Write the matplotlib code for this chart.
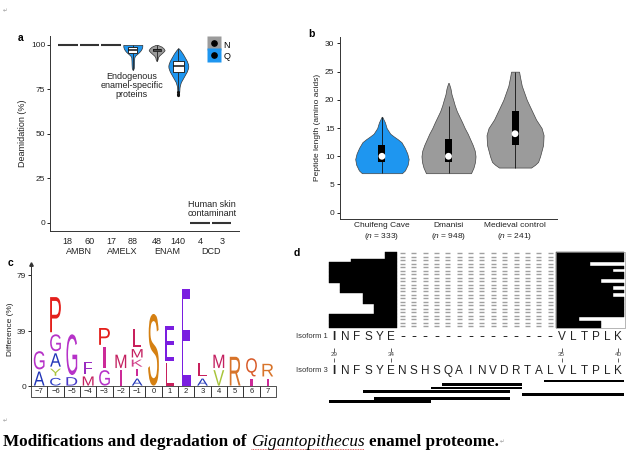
import numpy as np
import matplotlib
matplotlib.use('Agg')
import matplotlib.pyplot as plt
import matplotlib.transforms as mtransforms
from matplotlib.lines import Line2D
from matplotlib.patches import PathPatch, Rectangle
from matplotlib.textpath import TextPath
from matplotlib.font_manager import FontProperties

plt.rcParams['font.family'] = ['Liberation Sans', 'DejaVu Sans']
plt.rcParams['font.size'] = 6
plt.rcParams['mathtext.fontset'] = 'custom'
plt.rcParams['mathtext.rm'] = 'Liberation Sans'
plt.rcParams['mathtext.it'] = 'Liberation Sans:italic'
plt.rcParams['axes.linewidth'] = 0.7
plt.rcParams['axes.edgecolor'] = '#333333'

W, H = 639, 455
BLUE = '#1e96f0'
GREY = '#9b9b9b'
INK = '#222222'

# ---------------- a: deamidation per protein
a_groups = ['AMBN', 'AMELX', 'ENAM', 'DCD']
a_counts = ['18', '60', '17', '88', '48', '140', '4', '3']
a_kind = ['N', 'Q', 'N', 'Q', 'N', 'Q', 'N', 'Q']
a_flat = [100, 100, 100, None, None, None, 0, 0]
# violin outlines: value (%) and half width (px)
amelx_q_y = [86, 87, 89, 91, 93, 94, 95, 96, 97, 98, 99, 100]
amelx_q_w = [0.3, 1.0, 1.2, 1.3, 1.5, 2.5, 4.5, 6.5, 8, 9, 9.5, 9.5]
enam_n_y = [91, 92, 93, 94, 95, 96, 97, 98, 99, 99.5, 100]
enam_n_w = [0.3, 1, 1.3, 2.5, 4.5, 6.5, 8, 7, 5, 3, 1]
enam_q_y = [71, 72, 74, 76, 77, 79, 81, 83, 85, 87, 88, 89, 91, 93, 95, 97, 98]
enam_q_w = [0, 0.5, 1, 1.2, 1.5, 2.5, 4.5, 6.5, 8.5, 9.8, 10, 9.8, 8.5, 6.5, 4.5, 2, 0.5]
a_box = {3: (95.6, 97.0, 98.6), 4: (96.3, 97.0, 97.7), 5: (85.0, 88.0, 91.0)}
a_whisk = {3: (86, 100), 4: (91, 100), 5: (74, 98)}
enam_q_out = [73.5, 72.6, 71.6]

# ---------------- b: peptide length
b_sites = ['Chuifeng Cave', 'Dmanisi', 'Medieval control']
b_n = [333, 948, 241]
chui_y = [7, 7.5, 8.5, 9.5, 10.5, 11.5, 12.5, 13, 13.5, 14, 15, 16, 17]
chui_w = [20, 23, 25.7, 26.7, 25.3, 22.8, 19.5, 16, 12, 8.3, 4.7, 3, 0.3]
dman_y = [7, 8, 9, 10, 11, 12, 13, 14, 15, 16, 17, 18, 19, 20, 21, 22, 23]
dman_w = [22.5, 25, 26.5, 27, 26.2, 24.2, 21.7, 19.2, 16.2, 13.7, 11, 8.3, 6.3, 4.7, 3, 2, 0.3]
medi_y = [8, 8.5, 9, 10, 12, 13.75, 15, 16.5, 18, 20, 22.5, 24, 25]
medi_w = [16, 20, 23, 25, 28, 28.5, 26.5, 21, 17, 11.7, 6.7, 5, 4]
b_q1 = [9, 9, 12]
b_med = [10, 10, 14]
b_q3 = [12, 13, 18]
b_min = [7, 7, 8]
b_max = [17, 19, 25]

# ---------------- c: sequence logo around phosphorylated S
c_pos = ['\u22127', '\u22126', '\u22125', '\u22124', '\u22123', '\u22122', '\u22121',
         '0', '1', '2', '3', '4', '5', '6', '7']
c_letters = ['AG', 'CYAGP', 'DG', 'MF', 'GIP', 'IM', 'AIKML', 'S', 'LE', 'E',
             'AL', 'VM', 'R', 'IQ', 'IR']
c_heights = [[10, 13], [5.5, 5, 9.5, 12, 25], [6, 29], [6.5, 9], [11, 15, 12],
             [11, 9.5], [5, 5.5, 5, 6, 13], [51], [16, 25], [69], [5, 9.5],
             [11, 9.5], [20.5], [5, 13], [5, 9]]
AA_COL = {'A': '#2236b8', 'C': '#3040c8', 'D': '#4638c8', 'E': '#7a1ee0',
          'F': '#9a2cc0', 'G': '#b632c8', 'I': '#cc2a98', 'K': '#d0408a',
          'L': '#c8205c', 'M': '#c42060', 'P': '#e4201c', 'Q': '#d85a28',
          'R': '#d8742a', 'S': '#d58012', 'V': '#a8c43a', 'Y': '#a8c43a'}

# ---------------- d: AMELX isoform coverage
iso1 = 'INFSYE' + '-' * 14 + 'VLTPLK'
iso3 = 'INFSYENSHSQAINVDRTALVLTPLK'
d_marks = [0, 5, 20, 25]
d_mark_labels = ['29', '34', '35', '40']
left_start = [5, 5, 2, 0, 0, 0, 0, 0, 0, 1, 1, 1, 3, 3, 3, 4, 4, 4, 0, 0, 0, 0]
right_end = [25, 25, 25, 22, 25, 24, 25, 25, 23, 25, 24, 25, 24, 25, 25, 25, 25, 25, 25, 21, 23, 23]
iso3_start = [19, 10, 9, 3, 17, 4, 0]
iso3_end = [25, 16, 16, 15, 25, 15, 8]


def px_axes(fig, x0, y0, x1, y1):
    return fig.add_axes([x0 / W, 1 - y1 / H, (x1 - x0) / W, (y1 - y0) / H])


def ftext(fig, x, y, s, **kw):
    return fig.text(x / W, 1 - y / H, s, **kw)


fig = plt.figure(figsize=(W / 100, H / 100), dpi=100)

# ================= panel a
A_PX = 21.7
a_pos = [0, 1, 2, 3, 4.1, 5.1, 6.1, 7.1]
ax = px_axes(fig, 50, 36, 239, 231)
ax.set_xlim(-0.82, 7.9)
ax.set_ylim(-4.7, 105)
for s in ['top', 'right']:
    ax.spines[s].set_visible(False)
ax.set_yticks([0, 25, 50, 75, 100])
ax.tick_params(axis='y', length=2, width=0.6, pad=1.5, labelcolor=INK)
ax.set_xticks(a_pos, a_counts)
ax.tick_params(axis='x', length=0, pad=4, labelcolor=INK, labelsize=6.5)
ax.set_ylabel('Deamidation (%)', labelpad=3, color=INK, fontsize=6.5)

for i, v in enumerate(a_flat):
    if v is not None:
        ax.hlines(v, a_pos[i] - 0.45, a_pos[i] + 0.45, color='#333333', lw=1.5)

profiles = [(3, amelx_q_y, amelx_q_w), (4, enam_n_y, enam_n_w), (5, enam_q_y, enam_q_w)]
stats = []
for i, ys, ws in profiles:
    stats.append(dict(coords=np.array(ys, float), vals=np.array(ws, float),
                      mean=a_box[i][1], median=a_box[i][1], min=min(ys), max=max(ys)))
vp = ax.violin(stats, positions=[a_pos[i] for i, _, _ in profiles],
               widths=[2 * max(ws) / A_PX for _, _, ws in profiles], showextrema=False)
for body, (i, _, _) in zip(vp['bodies'], profiles):
    body.set_facecolor(BLUE if a_kind[i] == 'Q' else GREY)
    body.set_edgecolor('#333333')
    body.set_linewidth(0.5)
    body.set_alpha(1)
a_bw = {3: 9.4, 4: 8, 5: 11}
for i in a_box:
    q1, med, q3 = a_box[i]
    ax.vlines(a_pos[i], a_whisk[i][0], a_whisk[i][1], color='#222222', lw=0.6, zorder=2.5)
    ax.bar(a_pos[i], q3 - q1, bottom=q1, width=a_bw[i] / A_PX, color='white',
           edgecolor='#111111', lw=0.6, zorder=3)
    ax.hlines(med, a_pos[i] - a_bw[i] / A_PX / 2, a_pos[i] + a_bw[i] / A_PX / 2,
              color='#111111', lw=1.1, zorder=4)
ax.scatter([a_pos[5]] * len(enam_q_out), enam_q_out, s=1.5, color='#111111', zorder=3)

for g, name in enumerate(a_groups):
    xc = (a_pos[2 * g] + a_pos[2 * g + 1]) / 2
    ax.text(xc, -0.103, name, transform=ax.get_xaxis_transform(), ha='center',
            va='center', fontsize=6.5, color=INK)

h_n = (Line2D([], [], ls='', marker='s', ms=10, mfc=GREY, mec='none'),
       Line2D([], [], ls='', marker='o', ms=3.8, mfc='k', mec='k'))
h_q = (Line2D([], [], ls='', marker='s', ms=10, mfc=BLUE, mec='none'),
       Line2D([], [], ls='', marker='o', ms=3.8, mfc='k', mec='k'))
ax.legend([h_n, h_q], ['N', 'Q'], loc='upper left', bbox_to_anchor=(0.845, 0.985),
          frameon=False, fontsize=6.5, handlelength=1.0, handleheight=1.55,
          labelspacing=0.0, handletextpad=0.5, borderpad=0, borderaxespad=0)

ftext(fig, 131.7, 85.7, 'Endogenous\nenamel-specific\nproteins', ha='center', va='center',
      fontsize=6.5, linespacing=1.0, color=INK)
ftext(fig, 212, 209.5, 'Human skin\ncontaminant', ha='center', va='center',
      fontsize=6.5, linespacing=1.0, color=INK)

# ================= panel b
B_PX = 66.5
b_pos = [0, 1, 2]
bx = px_axes(fig, 340, 36.7, 557, 219)
bx.set_xlim(-0.63, 2.63)
bx.set_ylim(-1.12, 31.2)
for s in ['top', 'right']:
    bx.spines[s].set_visible(False)
bx.set_yticks(range(0, 31, 5))
bx.tick_params(axis='y', length=2, width=0.6, pad=2, labelcolor=INK, labelsize=6)
bx.set_xticks(b_pos, [f'{s}\n($\\it{{n}}$ = {n})' for s, n in zip(b_sites, b_n)])
bx.tick_params(axis='x', length=0, pad=2.5, labelcolor=INK, labelsize=6)
bx.set_ylabel('Peptide length (amino acids)', labelpad=3, color=INK, fontsize=6)

b_prof = [(chui_y, chui_w), (dman_y, dman_w), (medi_y, medi_w)]
bstats = [dict(coords=np.array(ys, float), vals=np.array(ws, float), mean=m, median=m,
               min=min(ys), max=max(ys)) for (ys, ws), m in zip(b_prof, b_med)]
vb = bx.violin(bstats, positions=b_pos, widths=[2 * max(ws) / B_PX for _, ws in b_prof],
               showextrema=False)
for body, col in zip(vb['bodies'], [BLUE, GREY, GREY]):
    body.set_facecolor(col)
    body.set_edgecolor('#444444')
    body.set_linewidth(0.5)
    body.set_alpha(1)
bx.vlines(b_pos, b_min, b_max, color='#111111', lw=0.6, zorder=2.5)
bx.bar(b_pos, np.subtract(b_q3, b_q1), bottom=b_q1, width=7 / B_PX, color='black', zorder=3)
bx.scatter(b_pos, b_med, s=24, color='white', edgecolors='none', zorder=4)

# ================= panel c
cx = px_axes(fig, 31, 262, 276, 397)
cx.set_xlim(-0.5, 14.5)
cx.set_ylim(-7.83, 88.3)
for s in ['top', 'right', 'bottom']:
    cx.spines[s].set_visible(False)
cx.spines['left'].set_bounds(0, 87)
cx.plot([-0.5], [87], marker='^', ms=2.5, color='#333333', clip_on=False)
cx.set_yticks([0, 39, 79])
cx.set_xticks([])
cx.tick_params(axis='y', length=2, width=0.6, pad=1.5, labelcolor=INK, labelsize=6)
cx.set_ylabel('Difference (%)', labelpad=2, color=INK, fontsize=6)

fp = FontProperties(family='Liberation Sans')
LETTER_W = {'I': 0.16, 'L': 0.5, 'F': 0.5, 'E': 0.56}


def logo_letter(axis, ch, xc, y0, h, color):
    w = LETTER_W.get(ch, 0.66)
    tp = TextPath((0, 0), ch, size=1, prop=fp)
    ext = tp.get_extents()
    tr = (mtransforms.Affine2D().translate(-ext.x0, -ext.y0)
          .scale(w / ext.width, h / ext.height).translate(xc - w / 2, y0))
    axis.add_patch(PathPatch(tr.transform_path(tp), facecolor=color, edgecolor='none'))


for i, (letters, heights) in enumerate(zip(c_letters, c_heights)):
    y = 0.3
    for ch, h in zip(letters, heights):
        logo_letter(cx, ch, i, y, h, AA_COL[ch])
        y += h + 1.5
cx.bar(range(len(c_pos)), -7.5, bottom=0, width=1, fill=False, edgecolor='#333333',
       lw=0.6, clip_on=False)
for i, lab in enumerate(c_pos):
    cx.text(i, -3.8, lab, ha='center', va='center', fontsize=5.5, color=INK)

# ================= panel d
TOP0, ISO1_BASE, ISO1_MID, NUM_Y, ISO3_BASE, ISO3_MID, BOT0 = 1.94, 27.64, 26.54, 31.84, 37.48, 36.4, 38.87
dx = px_axes(fig, 300, 245, 639, 410)
dx.set_xlim(-3.02, 26.82)
dx.set_ylim(47.76, 0)
dx.axis('off')
rows = np.arange(len(left_start))
dx.barh(TOP0 + rows + 0.5, [5.5 - (s - 0.5) for s in left_start],
        left=[s - 0.5 for s in left_start], height=1.0, color='black', ec='black', lw=0.3)
dx.barh(TOP0 + rows + 0.5, [e + 0.5 - 19.5 for e in right_end], left=19.5, height=1.0,
        color='black', ec='black', lw=0.3)
dx.add_patch(Rectangle((19.5, TOP0), 6.05, len(rows), fill=False, ec='#999999', lw=0.5))
for r in range(6, 20):
    dx.hlines(TOP0 + rows + 0.5, r - 0.22, r + 0.22, color='#a0a0a0', lw=1.0)

for seq, base, mid, lab in [(iso1, ISO1_BASE, ISO1_MID, 'Isoform 1'),
                            (iso3, ISO3_BASE, ISO3_MID, 'Isoform 3')]:
    dx.text(-0.6, mid, lab, ha='right', va='center', fontsize=5.5, color='#333333')
    for i, ch in enumerate(seq):
        dx.text(i, base, ch, ha='center', va='baseline', color=INK,
                fontsize=11 if ch == '-' else 8.5,
                fontweight='bold' if i == 0 else 'normal')
for r, lab in zip(d_marks, d_mark_labels):
    dx.text(r, NUM_Y, lab, ha='center', va='center', fontsize=4.5, color='#444444')
    dx.vlines([r, r], [29.8, 32.7], [30.9, 33.8], color='#444444', lw=0.6)

dx.barh([BOT0 + k + 0.5 for k in range(len(iso3_start))],
        [e - s + 1 for s, e in zip(iso3_start, iso3_end)],
        left=[s - 0.5 for s in iso3_start], height=0.82, color='black')

# ================= labels and caption
for lab, x, y in [('a', 20.7, 38), ('b', 311.7, 34), ('c', 10, 262.7), ('d', 296.7, 253)]:
    ftext(fig, x, y, lab, fontsize=7.5, fontweight='bold', ha='center', va='center')

for x, y in [(3, 11), (3, 421)]:
    ftext(fig, x, y, '\u21b5', fontsize=4, color='#999999', ha='left', va='center',
          family=['DejaVu Sans'])

cap_y = 441.7
CAP_FS = 12.3
serif = ['Liberation Serif', 'DejaVu Serif']
t1 = ftext(fig, 3, cap_y, 'Modifications and degradation of', family=serif,
           fontweight='bold', fontsize=CAP_FS, va='center')
fig.canvas.draw()
rend = fig.canvas.get_renderer()
gap = 4.2
bb1 = t1.get_window_extent(rend)
t2 = fig.text((bb1.x1 + gap) / W, 1 - cap_y / H, 'Gigantopithecus', family=serif,
              style='italic', fontsize=CAP_FS, va='center')
bb2 = t2.get_window_extent(rend)
t3 = fig.text((bb2.x1 + gap) / W, 1 - cap_y / H, 'enamel proteome.', family=serif,
              fontweight='bold', fontsize=CAP_FS, va='center')
bb3 = t3.get_window_extent(rend)
fig.add_artist(Line2D([bb2.x0 / W, bb2.x1 / W], [(bb2.y0 + 0.5) / H] * 2, color='#e03030',
                      lw=0.6, ls=(0, (1, 1))))
fig.text((bb3.x1 + 1) / W, 1 - cap_y / H, '\u21b5', fontsize=4, color='#999999',
         va='center', family=['DejaVu Sans'])

fig.savefig('out.png', dpi=100)
